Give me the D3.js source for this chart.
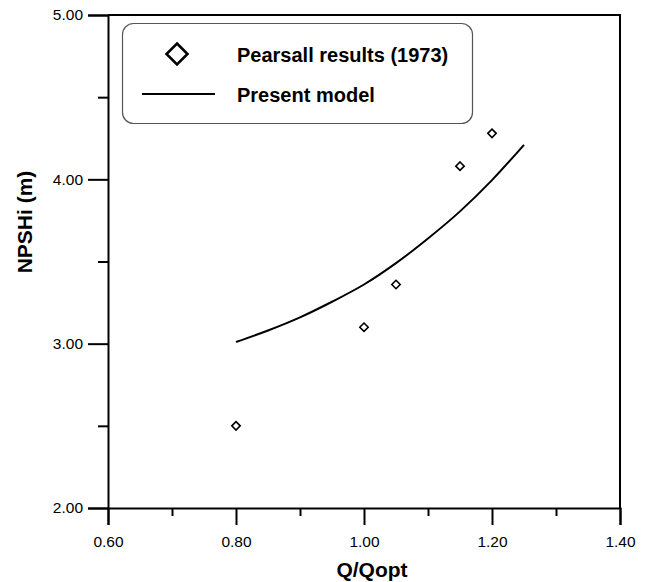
<!DOCTYPE html>
<html>
<head>
<meta charset="utf-8">
<script src="https://cdn.jsdelivr.net/npm/d3@7"></script>
<style>
  body { margin: 0; background: #fff; }
  svg { display: block; font-family: Arial, "Liberation Sans", sans-serif; }
</style>
</head>
<body>
<div id="chart"></div>
<script>
// measured points (Pearsall 1973)
const pearsallQ = [0.80, 1.00, 1.05, 1.15, 1.20];
const pearsallNpsh = [2.50, 3.10, 3.36, 4.08, 4.28];

// present model curve
const modelQ = [0.80, 0.85, 0.90, 0.95, 1.00, 1.05, 1.10, 1.15, 1.20, 1.25];
const modelNpsh = [3.01, 3.08, 3.16, 3.255, 3.36, 3.49, 3.64, 3.805, 3.995, 4.21];

const xMajor = [0.60, 0.80, 1.00, 1.20, 1.40];
const xMinor = [0.70, 0.90, 1.10, 1.30];
const yMajor = [2.00, 3.00, 4.00, 5.00];
const yMinor = [2.50, 3.50, 4.50];

const legendLabels = ["Pearsall results (1973)", "Present model"];

const width = 653, height = 582;
const margin = { top: 15, right: 33, bottom: 74, left: 108 };

const svg = d3.select("#chart").append("svg")
    .attr("width", width)
    .attr("height", height);

const x = d3.scaleLinear().domain([0.6, 1.4]).range([margin.left, width - margin.right]);
const y = d3.scaleLinear().domain([2, 5]).range([height - margin.bottom, margin.top]);

const fmt = d3.format(".2f");

// frame: top and right lines
svg.append("path")
    .attr("d", `M${x(0.6)},${y(5)}H${x(1.4)}V${y(2)}`)
    .attr("fill", "none")
    .attr("stroke", "#000")
    .attr("stroke-width", 2);

// bottom axis
const xAxis = svg.append("g")
    .attr("transform", `translate(0,${y(2)})`)
    .call(d3.axisBottom(x).tickValues(xMajor).tickFormat(fmt).tickSize(17).tickPadding(11));
svg.append("g")
    .attr("transform", `translate(0,${y(2)})`)
    .call(d3.axisBottom(x).tickValues(xMinor).tickFormat("").tickSize(8))
    .call(g => g.select(".domain").remove());

// left axis
const yAxis = svg.append("g")
    .attr("transform", `translate(${x(0.6)},0)`)
    .call(d3.axisLeft(y).tickValues(yMajor).tickFormat(fmt).tickSize(20).tickPadding(5));
svg.append("g")
    .attr("transform", `translate(${x(0.6)},0)`)
    .call(d3.axisLeft(y).tickValues(yMinor).tickFormat("").tickSize(10))
    .call(g => g.select(".domain").remove());

svg.selectAll(".domain").attr("stroke-width", 2);
svg.selectAll(".tick line").attr("stroke-width", 2);
svg.selectAll(".tick text")
    .attr("font-size", 15.5)
    .attr("font-family", "Arial, 'Liberation Sans', sans-serif")
    .attr("fill", "#000");

// model curve
const line = d3.line()
    .x(d => x(d[0]))
    .y(d => y(d[1]))
    .curve(d3.curveCatmullRom);

svg.append("path")
    .datum(modelQ.map((q, i) => [q, modelNpsh[i]]))
    .attr("d", line)
    .attr("fill", "none")
    .attr("stroke", "#000")
    .attr("stroke-width", 2);

// diamonds
const diamond = r => `M0,${-r}L${r},0L0,${r}L${-r},0Z`;

svg.append("g").selectAll("path")
    .data(pearsallQ.map((q, i) => [q, pearsallNpsh[i]]))
    .enter().append("path")
    .attr("transform", d => `translate(${x(d[0])},${y(d[1])})`)
    .attr("d", diamond(4.2))
    .attr("fill", "#fff")
    .attr("stroke", "#000")
    .attr("stroke-width", 1.6);

// legend
const legend = svg.append("g");
legend.append("rect")
    .attr("x", 122.5).attr("y", 23.5)
    .attr("width", 350).attr("height", 100)
    .attr("rx", 11).attr("ry", 11)
    .attr("fill", "#fff")
    .attr("stroke", "#555")
    .attr("stroke-width", 1.2);

legend.append("path")
    .attr("transform", "translate(177,54)")
    .attr("d", diamond(10.5))
    .attr("fill", "#fff")
    .attr("stroke", "#000")
    .attr("stroke-width", 2.6);

legend.append("line")
    .attr("x1", 142).attr("x2", 215)
    .attr("y1", 94).attr("y2", 94)
    .attr("stroke", "#000")
    .attr("stroke-width", 2);

legend.selectAll("text")
    .data(legendLabels)
    .enter().append("text")
    .attr("x", 237)
    .attr("y", (d, i) => 62 + i * 40)
    .attr("font-size", 20)
    .attr("font-weight", "bold")
    .text(d => d);

// axis titles
svg.append("text")
    .attr("x", 372)
    .attr("y", 577)
    .attr("text-anchor", "middle")
    .attr("font-size", 21)
    .attr("font-weight", "bold")
    .text("Q/Qopt");

svg.append("text")
    .attr("transform", "translate(32,222) rotate(-90)")
    .attr("text-anchor", "middle")
    .attr("font-size", 21)
    .attr("font-weight", "bold")
    .text("NPSHi (m)");
</script>
</body>
</html>
